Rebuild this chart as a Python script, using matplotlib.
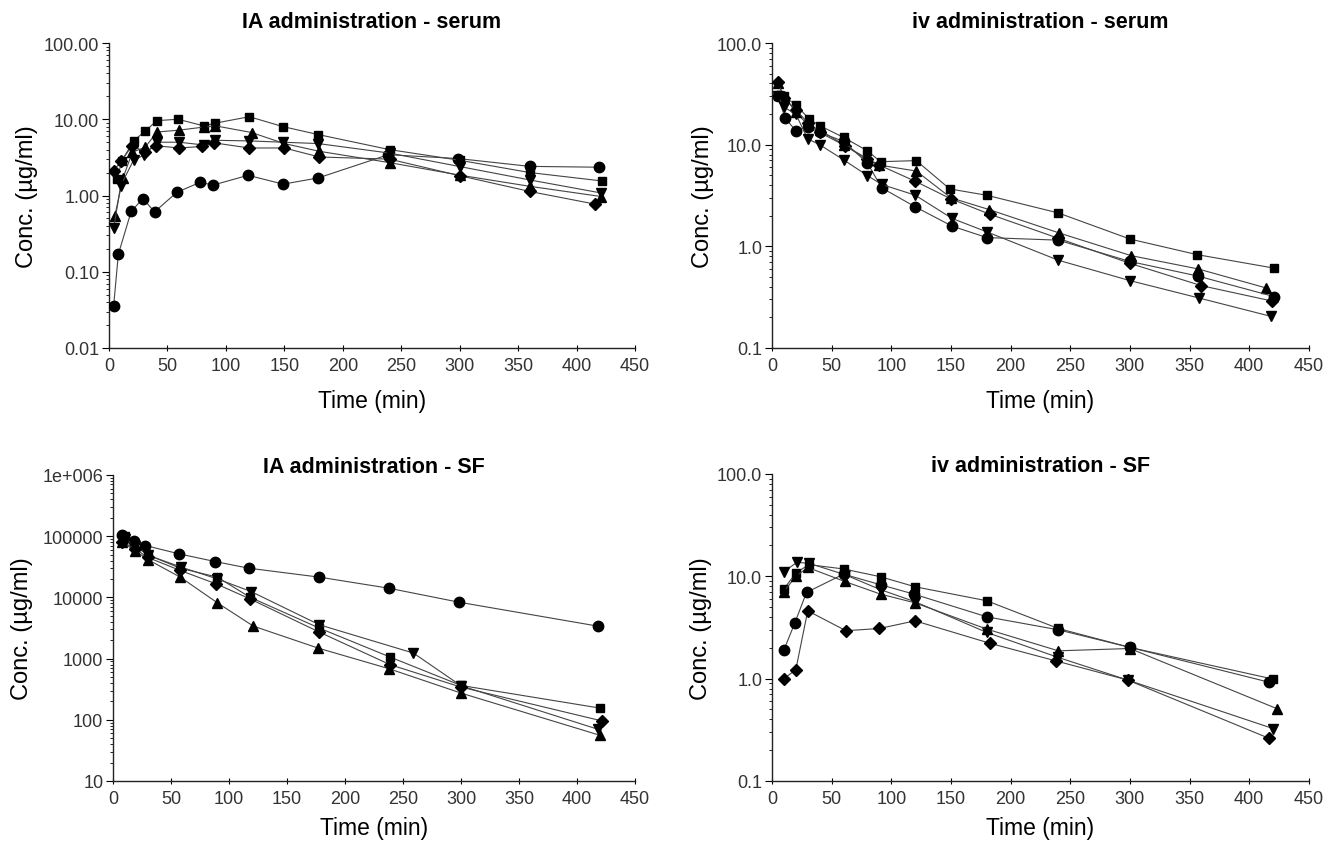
import numpy as np
import matplotlib
matplotlib.use("Agg")
import matplotlib.pyplot as plt
from matplotlib.ticker import FixedLocator, FixedFormatter, LogLocator, NullFormatter

plt.rcParams['font.family'] = ['Liberation Sans', 'DejaVu Sans']

# ---- IA administration - serum ----
ia_serum = {
    'o': ([4, 8, 19, 29, 39, 58, 78, 89, 119, 149, 179, 239, 299, 360, 419],
          [0.036, 0.17, 0.62, 0.91, 0.61, 1.10, 1.49, 1.37, 1.84, 1.41, 1.70, 3.43, 3.05, 2.41, 2.35]),
    's': ([7, 11, 21, 31, 41, 59, 81, 91, 120, 149, 179, 240, 300, 360, 422],
          [1.65, 2.86, 5.2, 7.0, 9.6, 10.0, 8.2, 8.9, 10.8, 8.0, 6.3, 4.0, 2.9, 2.0, 1.55]),
    '^': ([5, 12, 20, 31, 41, 60, 81, 91, 122, 150, 180, 240, 300, 360, 421],
          [0.54, 1.7, 3.7, 4.3, 6.8, 7.2, 7.9, 8.2, 6.7, 4.8, 3.8, 2.7, 1.85, 1.32, 0.97]),
    'v': ([4, 10, 21, 30, 41, 60, 81, 91, 120, 149, 179, 240, 300, 360, 421],
          [0.37, 1.35, 2.9, 3.4, 5.0, 5.0, 4.6, 5.3, 5.2, 5.0, 4.8, 3.6, 2.4, 1.6, 1.08]),
    'D': ([4, 10, 20, 31, 40, 60, 80, 90, 120, 150, 180, 240, 300, 360, 416],
          [2.1, 2.8, 4.5, 3.7, 4.5, 4.2, 4.4, 4.9, 4.2, 4.2, 3.2, 3.0, 1.82, 1.13, 0.77]),
}

# ---- iv administration - serum ----
iv_serum = {
    's': ([5, 10, 20, 31, 40, 60, 80, 91, 121, 149, 180, 240, 300, 356, 421],
          [30, 30, 24.7, 18, 15.4, 11.8, 8.7, 6.8, 6.97, 3.67, 3.18, 2.13, 1.18, 0.83, 0.61]),
    '^': ([5, 10, 20, 30, 40, 60, 80, 90, 121, 150, 182, 241, 301, 357, 414],
          [40, 30, 21, 15.7, 14, 10, 7.1, 6.3, 5.5, 3.0, 2.3, 1.35, 0.81, 0.60, 0.39]),
    'D': ([5, 10, 20, 30, 40, 61, 80, 90, 120, 150, 183, 240, 300, 360, 419],
          [41, 29, 22, 16.5, 13.2, 9.8, 7.3, 6.3, 4.37, 2.93, 2.06, 1.2, 0.68, 0.41, 0.29]),
    'o': ([5, 11, 20, 30, 40, 60, 80, 92, 120, 151, 180, 240, 300, 357, 421],
          [30, 18.3, 13.7, 15, 13.2, 10.8, 6.6, 3.76, 2.45, 1.58, 1.22, 1.15, 0.71, 0.51, 0.32]),
    'v': ([5, 10, 20, 30, 40, 60, 80, 92, 120, 151, 180, 240, 300, 358, 418],
          [30, 23.4, 20, 11.4, 10, 7.1, 4.97, 4.06, 3.19, 1.88, 1.39, 0.73, 0.46, 0.31, 0.205]),
}

# ---- IA administration - SF ----
ia_sf = {
    'o': ([8, 18, 28, 57, 88, 117, 178, 238, 298, 418],
          [106000, 84700, 70300, 51400, 38500, 30000, 21400, 14100, 8360, 3390]),
    's': ([10, 18, 30, 58, 90, 118, 178, 239, 300, 420],
          [99000, 74800, 49500, 30000, 21400, 10070, 3140, 1057, 364, 155]),
    'v': ([10, 19, 30, 59, 90, 119, 178, 259, 300, 418],
          [90000, 70000, 49000, 31100, 20000, 12470, 3560, 1230, 360, 70]),
    '^': ([8, 19, 30, 58, 90, 121, 177, 238, 300, 420],
          [79600, 58200, 41500, 21400, 8150, 3390, 1480, 682, 273, 55.6]),
    'D': ([8, 19, 30, 58, 89, 118, 178, 239, 300, 422],
          [81600, 62000, 45000, 27500, 16600, 9460, 2700, 793, 342, 95.3]),
}

# ---- iv administration - SF ----
iv_sf = {
    'v': ([10, 21, 31, 61, 91, 120, 180, 240, 298, 420],
          [11.1, 13.7, 13.4, 10.4, 7.4, 5.64, 2.83, 1.61, 0.97, 0.325]),
    's': ([10, 20, 31, 60, 91, 120, 180, 240, 300, 420],
          [7.5, 10.8, 13.0, 11.8, 9.9, 7.9, 5.77, 3.09, 2.02, 0.99]),
    '^': ([10, 20, 30, 61, 91, 120, 180, 240, 300, 423],
          [7.1, 9.98, 12.2, 8.9, 6.7, 5.5, 3.05, 1.87, 1.97, 0.51]),
    'o': ([10, 19, 29, 60, 91, 119, 180, 240, 300, 417],
          [1.90, 3.46, 6.96, 10.5, 8.27, 6.7, 4.02, 3.0, 2.02, 0.92]),
    'D': ([10, 20, 30, 62, 90, 120, 183, 238, 298, 417],
          [1.0, 1.22, 4.6, 2.94, 3.09, 3.67, 2.21, 1.49, 0.97, 0.26]),
}

marker_size = {'o': 7.5, 's': 6, '^': 7, 'v': 7, 'D': 6}

panels = [
    # data, title, yticks, yticklabels, rect, ylabel x, xlabel y, title y
    (ia_serum, 'IA administration - serum', [0.01, 0.1, 1, 10, 100],
     ['0.01', '0.10', '1.00', '10.00', '100.00'],
     [0.0814, 0.587, 0.3928, 0.3609], -0.135, -0.135, 1.069),
    (iv_serum, 'iv administration - serum', [0.1, 1, 10, 100],
     ['0.1', '1.0', '10.0', '100.0'],
     [0.5765, 0.587, 0.4010, 0.3609], -0.108, -0.135, 1.069),
    (ia_sf, 'IA administration - SF', [10, 100, 1000, 10000, 100000, 1e6],
     ['10', '100', '1000', '10000', '100000', '1e+006'],
     [0.0844, 0.0746, 0.3898, 0.3621], -0.153, -0.115, 1.028),
    (iv_sf, 'iv administration - SF', [0.1, 1, 10, 100],
     ['0.1', '1.0', '10.0', '100.0'],
     [0.5765, 0.0746, 0.4010, 0.3633], -0.112, -0.115, 1.028),
]

fig = plt.figure(figsize=(13.39, 8.45), dpi=100)

for data, title, yt, ytl, rect, ylx, xly, ty in panels:
    ax = fig.add_axes(rect)
    for m, (t, v) in data.items():
        ax.plot(t, v, color='#444444', lw=0.8, marker=m, ms=marker_size[m],
                mfc='black', mec='black', zorder=3)
    ax.set_yscale('log')
    ax.set_ylim(yt[0], yt[-1])
    ax.set_xlim(0, 450)
    ax.yaxis.set_major_locator(FixedLocator(yt))
    ax.yaxis.set_major_formatter(FixedFormatter(ytl))
    ax.yaxis.set_minor_locator(LogLocator(base=10, subs=np.arange(2, 10)))
    ax.yaxis.set_minor_formatter(NullFormatter())
    ax.set_xticks(np.arange(0, 451, 50))
    for side in ['top', 'right']:
        ax.spines[side].set_visible(False)
    for side in ['left', 'bottom']:
        ax.spines[side].set_color('#222222')
        ax.spines[side].set_linewidth(1.0)
    ax.tick_params(axis='y', which='major', direction='out', length=5, labelsize=13,
                   labelcolor='#333333', pad=2)
    ax.tick_params(axis='y', which='minor', direction='out', length=2.5)
    ax.tick_params(axis='x', which='major', direction='inout', length=5, labelsize=13,
                   labelcolor='#333333', pad=4)
    ax.set_ylabel('Conc. (µg/ml)', fontsize=17)
    ax.yaxis.set_label_coords(ylx, 0.5)
    ax.set_xlabel('Time (min)', fontsize=16.5)
    ax.xaxis.set_label_coords(0.5, xly)
    ax.text(0.5, ty, title, transform=ax.transAxes, ha='center', va='center',
            fontsize=15.5, fontweight='bold')

fig.savefig('out.png', dpi=100)
